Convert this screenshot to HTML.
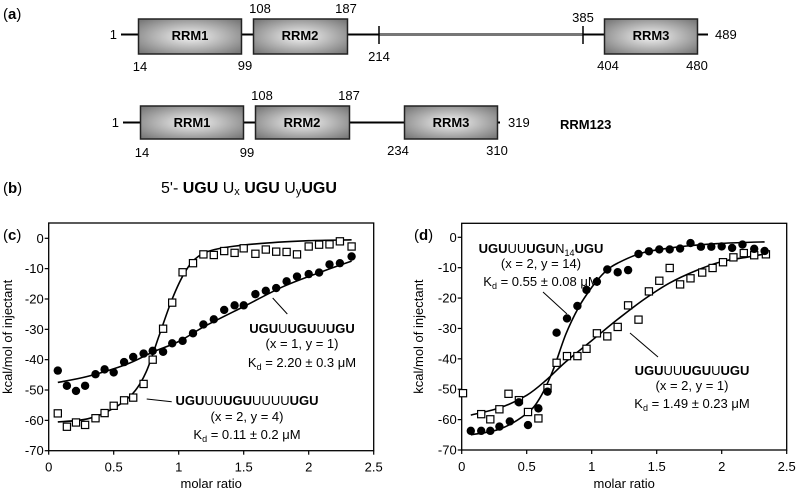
<!DOCTYPE html>
<html><head><meta charset="utf-8"><style>
html,body{margin:0;padding:0;background:#fff;}
svg{display:block;font-family:"Liberation Sans",Arial,sans-serif;}
</style></head><body>
<svg id="fig" width="800" height="493" viewBox="0 0 800 493">
<defs>
<radialGradient id="boxg" cx="50%" cy="50%" r="65%">
<stop offset="0" stop-color="#f4f4f4"/><stop offset="1" stop-color="#7a7a7a"/>
</radialGradient>
</defs>
<g font-size="13" fill="#000">
<text x="3" y="19" font-size="15">(<tspan font-weight="bold">a</tspan>)</text>
<g>
<line x1="121" y1="34.5" x2="379" y2="34.5" stroke="#000" stroke-width="2"/>
<line x1="379" y1="34.5" x2="583" y2="34.5" stroke="#777" stroke-width="3"/>
<line x1="583" y1="34.5" x2="708" y2="34.5" stroke="#000" stroke-width="2"/>
<line x1="379" y1="26" x2="379" y2="44" stroke="#000" stroke-width="1.5"/>
<line x1="583" y1="26" x2="583" y2="44" stroke="#000" stroke-width="1.5"/>
<rect x="138.5" y="19" width="103" height="35" fill="url(#boxg)" stroke="#222" stroke-width="1.5"/>
<rect x="253.5" y="19" width="94" height="35" fill="url(#boxg)" stroke="#222" stroke-width="1.5"/>
<rect x="604.5" y="19" width="93" height="35" fill="url(#boxg)" stroke="#222" stroke-width="1.5"/>
<text x="190" y="40" text-anchor="middle" font-weight="bold">RRM1</text>
<text x="300" y="40" text-anchor="middle" font-weight="bold">RRM2</text>
<text x="651" y="40" text-anchor="middle" font-weight="bold">RRM3</text>
<text x="117" y="39" text-anchor="end">1</text>
<text x="715" y="39">489</text>
<text x="260" y="13" text-anchor="middle">108</text>
<text x="346" y="13" text-anchor="middle">187</text>
<text x="140" y="71" text-anchor="middle">14</text>
<text x="245" y="70" text-anchor="middle">99</text>
<text x="379" y="61" text-anchor="middle">214</text>
<text x="583" y="22" text-anchor="middle">385</text>
<text x="608" y="70" text-anchor="middle">404</text>
<text x="697" y="70" text-anchor="middle">480</text>
</g>
<g>
<line x1="123" y1="122.5" x2="500" y2="122.5" stroke="#000" stroke-width="2"/>
<rect x="140.5" y="106" width="103" height="33" fill="url(#boxg)" stroke="#222" stroke-width="1.5"/>
<rect x="255.5" y="106" width="94" height="33" fill="url(#boxg)" stroke="#222" stroke-width="1.5"/>
<rect x="404.5" y="106" width="93" height="33" fill="url(#boxg)" stroke="#222" stroke-width="1.5"/>
<text x="192" y="127" text-anchor="middle" font-weight="bold">RRM1</text>
<text x="302" y="127" text-anchor="middle" font-weight="bold">RRM2</text>
<text x="451" y="127" text-anchor="middle" font-weight="bold">RRM3</text>
<text x="119" y="127" text-anchor="end">1</text>
<text x="508" y="127">319</text>
<text x="560" y="129" font-weight="bold">RRM123</text>
<text x="262" y="100" text-anchor="middle">108</text>
<text x="349" y="100" text-anchor="middle">187</text>
<text x="142" y="157" text-anchor="middle">14</text>
<text x="247" y="157" text-anchor="middle">99</text>
<text x="398" y="155" text-anchor="middle">234</text>
<text x="497" y="155" text-anchor="middle">310</text>
</g>
</g>
<g>
<text x="3" y="193" font-size="15">(<tspan font-weight="bold">b</tspan>)</text>
<text x="161" y="193" font-size="16">5'- <tspan font-weight="bold">UGU</tspan> U<tspan font-size="11" dy="2">x</tspan> <tspan dy="-2" font-weight="bold">UGU</tspan> U<tspan font-size="11" dy="2">y</tspan><tspan dy="-2" font-weight="bold">UGU</tspan></text>
</g>
<g id="pc"></g>
<g id="pd"></g>
</svg>
<script>
const xTicks = [0, 0.5, 1, 1.5, 2, 2.5];
const xTickLabels = ["0", "0.5", "1", "1.5", "2", "2.5"];
const yTicks = [0, -10, -20, -30, -40, -50, -60, -70];
const yTickLabels = ["0", "-10", "-20", "-30", "-40", "-50", "-60", "-70"];
const cX = [0.07,0.14,0.21,0.28,0.36,0.43,0.50,0.58,0.65,0.73,0.80,0.88,0.95,1.03,1.11,1.19,1.27,1.35,1.43,1.50,1.59,1.67,1.75,1.83,1.91,2.00,2.08,2.16,2.24,2.33];
const cCircles = [-43.6,-48.6,-50.3,-48.6,-44.8,-43.2,-44.2,-40.8,-39.1,-38.0,-37.1,-37.4,-34.6,-33.8,-31.3,-28.4,-26.7,-23.6,-22.1,-22.1,-18.4,-17.3,-16.4,-14.2,-12.6,-11.8,-11.3,-8.6,-8.2,-6.0];
const cSquares = [-57.7,-62.1,-60.7,-61.5,-59.3,-57.6,-55.2,-53.4,-52.5,-48.0,-40.0,-29.8,-21.2,-11.2,-8.2,-5.3,-5.5,-4.2,-4.8,-3.3,-5.1,-3.7,-4.4,-4.5,-5.3,-2.7,-2.1,-2.0,-1.0,-2.7];
const cFitSqX = [0.07,0.3,0.5,0.65,0.75,0.85,0.95,1.05,1.15,1.3,1.6,2.0,2.33];
const cFitSqY = [-60.5,-59.5,-56,-51,-44,-32,-20,-11,-6,-3.5,-1.8,-0.8,-0.5];
const cFitCiX = [0.07,0.3,0.6,0.8,1.0,1.2,1.5,1.8,2.1,2.33];
const cFitCiY = [-47.5,-45.5,-41.5,-37.5,-34,-29,-22.5,-16,-11,-7.5];
const dXc = [0.07,0.15,0.22,0.29,0.37,0.44,0.51,0.59,0.66,0.73,0.81,0.89,0.96,1.04,1.12,1.20,1.28,1.36,1.44,1.52,1.60,1.68,1.76,1.84,1.92,2.00,2.08,2.16,2.25,2.33];
const dCircles = [-63.7,-63.7,-63.7,-62.3,-60.6,-54.3,-61.8,-56.3,-50.8,-31.4,-26.7,-22.6,-17.3,-14.6,-10.6,-11.5,-10.8,-5.5,-4.6,-4.0,-4.0,-3.7,-1.9,-3.1,-3.1,-3.0,-3.5,-2.4,-3.8,-4.5];
const dXs = [0.01,0.15,0.22,0.29,0.36,0.44,0.51,0.59,0.66,0.73,0.81,0.89,0.96,1.04,1.12,1.20,1.28,1.36,1.44,1.52,1.60,1.68,1.76,1.85,1.93,2.01,2.09,2.17,2.25,2.34];
const dSquares = [-51.3,-58.2,-59.9,-56.6,-51.5,-53.6,-57.5,-59.6,-49.6,-41.3,-39.1,-39.1,-36.7,-31.6,-32.6,-29.5,-22.4,-27.1,-17.8,-14.3,-10.1,-15.5,-13.5,-11.6,-10.1,-8.2,-6.6,-5.2,-5.9,-5.6];
const dFitCiX = [0.07,0.3,0.5,0.6,0.7,0.8,0.9,1.0,1.1,1.2,1.4,1.7,2.0,2.33];
const dFitCiY = [-65,-63,-58,-53,-44,-32,-23,-16.5,-11.5,-8.5,-5,-3,-2,-1.5];
const dFitSqX = [0.07,0.3,0.5,0.65,0.8,1.0,1.2,1.4,1.6,1.8,2.0,2.2,2.33];
const dFitSqY = [-58.5,-56,-52,-47,-41,-34,-27,-20.5,-15,-11,-8,-6.5,-5.5];

const NS = "http://www.w3.org/2000/svg";
function mk(parent, tag, attrs, text) {
  const e = document.createElementNS(NS, tag);
  for (const k in attrs) e.setAttribute(k, attrs[k]);
  if (text !== undefined) e.textContent = text;
  parent.appendChild(e);
  return e;
}
function smoothPath(pts) {
  let d = "M" + pts[0][0].toFixed(1) + " " + pts[0][1].toFixed(1);
  for (let i = 0; i < pts.length - 1; i++) {
    const p0 = pts[Math.max(0, i - 1)], p1 = pts[i], p2 = pts[i + 1], p3 = pts[Math.min(pts.length - 1, i + 2)];
    const c1x = p1[0] + (p2[0] - p0[0]) / 6, c1y = p1[1] + (p2[1] - p0[1]) / 6;
    const c2x = p2[0] - (p3[0] - p1[0]) / 6, c2y = p2[1] - (p3[1] - p1[1]) / 6;
    d += " C" + c1x.toFixed(1) + " " + c1y.toFixed(1) + " " + c2x.toFixed(1) + " " + c2y.toFixed(1) + " " + p2[0].toFixed(1) + " " + p2[1].toFixed(1);
  }
  return d;
}
function drawPanel(g, P) {
  const sx = v => P.x0 + v / 2.5 * (P.x1 - P.x0);
  const sy = v => P.y0 + (v / -70) * (P.y1 - P.y0);
  const frame = mk(g, "rect", {x: P.x0, y: P.top, width: P.x1 - P.x0, height: P.y1 - P.top, fill: "none", stroke: "#000", "stroke-width": 1.3});
  
  
  const yax = mk(g, "g", {"font-size": 13, "text-anchor": "end"});
  
  
  yTicks.forEach((t, i) => {
    const y = sy(t);
    mk(yax, "line", {x1: P.x0 - 4, x2: P.x0, y1: y, y2: y, stroke: "#000", "stroke-width": 1.2});
    const lb = mk(yax, "text", {x: P.x0 - 5, y: y + 4.5}, yTickLabels[i]);
    
    
  });
  const xax = mk(g, "g", {"font-size": 13, "text-anchor": "middle"});
  
  
  xTicks.forEach((t, i) => {
    const x = sx(t);
    mk(xax, "line", {x1: x, x2: x, y1: P.y1, y2: P.y1 + 4, stroke: "#000", "stroke-width": 1.2});
    const lb = mk(xax, "text", {x: x, y: P.y1 + 21}, xTickLabels[i]);
    
    
  });
  const xt = mk(g, "text", {x: (P.x0 + P.x1) / 2, y: 488, "font-size": 13, "text-anchor": "middle"}, "molar ratio");
  
  
  const yt = mk(g, "text", {x: 0, y: 0, "font-size": 13, "text-anchor": "middle", transform: "translate(" + P.ytx + "," + ((P.top + P.y1) / 2) + ") rotate(-90)"}, "kcal/mol of injectant");
  
  
  const pl = mk(g, "text", {x: P.labx, y: 240, "font-size": 15}, "");
  pl.innerHTML = '(<tspan font-weight="bold">' + P.letter + '</tspan>)';
  
  
  P.fits.forEach(f => {
    const pts = f[0].map((x, i) => [sx(x), sy(f[1][i])]);
    const p = mk(g, "path", {d: smoothPath(pts), fill: "none", stroke: "#000", "stroke-width": 1.6});
    
    
  });
  const sq = mk(g, "g", {});
  
  
  P.sqX.forEach((x, i) => {
    const r = mk(sq, "rect", {x: sx(x) - 3.6, y: sy(P.sqY[i]) - 3.6, width: 7.2, height: 7.2, fill: "#fff", stroke: "#000", "stroke-width": 1.2});
    
    
  });
  const ci = mk(g, "g", {});
  
  
  P.ciX.forEach((x, i) => {
    const c = mk(ci, "circle", {cx: sx(x), cy: sy(P.ciY[i]), r: 4.2, fill: "#000"});
    
    
  });
  P.ann.forEach(a => {
    const ag = mk(g, "g", {"font-size": 13, "text-anchor": "middle"});
    
    
    mk(ag, "line", {x1: a.l[0], y1: a.l[1], x2: a.l[2], y2: a.l[3], stroke: "#000", "stroke-width": 1});
    const t1 = mk(ag, "text", {x: a.cx, y: a.by[0]}, "");
    t1.innerHTML = a.seq;
    mk(ag, "text", {x: a.cx, y: a.by[1]}, a.xy);
    const t3 = mk(ag, "text", {x: a.cx, y: a.by[2]}, "");
    t3.innerHTML = 'K<tspan font-size="9" dy="3">d</tspan><tspan dy="-3"> = ' + a.kd + ' \u03BCM</tspan>';
  });
}
drawPanel(document.getElementById("pc"), {
  x0: 48.7, x1: 373.7, y0: 238.3, y1: 450.7, top: 223, ytx: 12, labx: 3, letter: "c",
  fits: [[cFitSqX, cFitSqY], [cFitCiX, cFitCiY]],
  sqX: cX, sqY: cSquares, ciX: cX, ciY: cCircles,
  ann: [
    {l: [272.7, 298, 287.3, 314], cx: 302, by: [333, 348, 367], seq: '<tspan font-weight="bold">UGU</tspan>U<tspan font-weight="bold">UGU</tspan>U<tspan font-weight="bold">UGU</tspan>', xy: "(x = 1, y = 1)", kd: "2.20 \u00B1 0.3"},
    {l: [146.7, 399, 171.7, 401.7], cx: 247, by: [405, 421, 439], seq: '<tspan font-weight="bold">UGU</tspan>UU<tspan font-weight="bold">UGU</tspan>UUUU<tspan font-weight="bold">UGU</tspan>', xy: "(x = 2, y = 4)", kd: "0.11 \u00B1 0.2"}
  ]
});
drawPanel(document.getElementById("pd"), {
  x0: 461.7, x1: 786.7, y0: 237.3, y1: 450, top: 223.3, ytx: 423, labx: 414, letter: "d",
  fits: [[dFitCiX, dFitCiY], [dFitSqX, dFitSqY]],
  sqX: dXs, sqY: dSquares, ciX: dXc, ciY: dCircles,
  ann: [
    {l: [543, 292, 567, 314], cx: 541, by: [253, 268, 286], seq: '<tspan font-weight="bold">UGU</tspan>UU<tspan font-weight="bold">UGU</tspan>N<tspan font-size="9" dy="3">14</tspan><tspan dy="-3" font-weight="bold">UGU</tspan>', xy: "(x = 2, y = 14)", kd: "0.55 \u00B1 0.08"},
    {l: [630, 333, 658, 357], cx: 692, by: [375, 390, 408], seq: '<tspan font-weight="bold">UGU</tspan>UU<tspan font-weight="bold">UGU</tspan>U<tspan font-weight="bold">UGU</tspan>', xy: "(x = 2, y = 1)", kd: "1.49 \u00B1 0.23"}
  ]
});
</script>
</body></html>
